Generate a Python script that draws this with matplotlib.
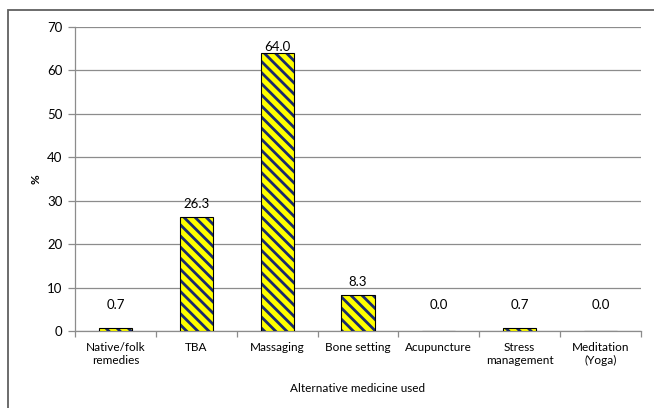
import matplotlib
matplotlib.use("Agg")
import matplotlib.pyplot as plt
from matplotlib.patches import Rectangle
import numpy as np

categories = ["Native/folk\nremedies", "TBA", "Massaging", "Bone setting",
              "Acupuncture", "Stress\nmanagement", "Meditation\n(Yoga)"]
percent = [0.7, 26.3, 64.0, 8.3, 0.0, 0.7, 0.0]
y_ticks = [0, 10, 20, 30, 40, 50, 60, 70]

plt.rcParams['font.family'] = ['Lato', 'DejaVu Sans']
plt.rcParams['hatch.linewidth'] = 2.0

fig = plt.figure(figsize=(6.54, 4.08), dpi=100)
ax = fig.add_axes([75/654, 1 - 331/408, 566/654, 304/408])

# outer chart border (runs off the right and bottom edges)
fig.patches.append(Rectangle((8/654, -0.1), 1.1, 1.1 - 10/408,
                             transform=fig.transFigure, fill=False,
                             edgecolor='#606060', linewidth=1.3))

x = np.arange(len(categories))
# striped fill first (hatch takes the edge colour), then a black outline
ax.bar(x, percent, width=0.41, color='#ffff00', edgecolor='#1a2a6c',
       linewidth=0, hatch='\\\\\\', zorder=3)
ax.bar(x, percent, width=0.41, fill=False, edgecolor='black',
       linewidth=0.8, zorder=3)

for xi, v in zip(x, percent):
    ax.text(xi, min(max(v, 3) + 3, 65.3), f"{v:.1f}", ha='center', va='center',
            fontsize=9.5, zorder=4)

ax.set_xlim(-0.5, len(categories) - 0.5)
ax.set_ylim(0, 70)
ax.set_yticks(y_ticks)
ax.yaxis.grid(True, color='#8c8c8c', linewidth=0.9)
ax.set_axisbelow(True)

ax.set_xticks(x)
ax.set_xticklabels(categories, fontsize=8.5)
ax.set_xticks(np.arange(len(categories) + 1) - 0.5, minor=True)
ax.tick_params(axis='x', which='major', length=0, pad=8)
ax.tick_params(axis='x', which='minor', length=4, color='#8c8c8c', width=0.9)
ax.tick_params(axis='y', length=5, color='#8c8c8c', width=0.9, labelsize=9.5, pad=4)

for s in ['top', 'right']:
    ax.spines[s].set_visible(False)
for s in ['left', 'bottom']:
    ax.spines[s].set_color('#8c8c8c')
    ax.spines[s].set_linewidth(0.9)

ax.set_ylabel("%", fontsize=8.5, fontweight='bold', labelpad=4)
ax.set_xlabel("Alternative medicine used", fontsize=8.5, labelpad=12)

fig.savefig("out.png", dpi=100)
